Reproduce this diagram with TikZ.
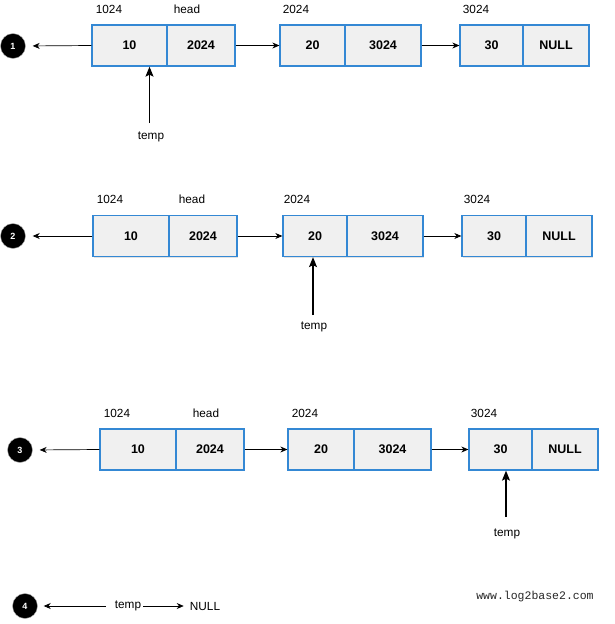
\documentclass[tikz,border=0pt]{standalone}
\usepackage{fontspec}
\setmainfont{Liberation Sans}
\newfontfamily\webmono{Liberation Mono}
\usetikzlibrary{shadows,arrows.meta}
\definecolor{cellblue}{RGB}{52,136,212}
\definecolor{cellfill}{RGB}{240,240,240}
\tikzset{
  cell/.style={draw=cellblue, line width=1.3pt, fill=cellfill, minimum height=41pt,
    inner sep=0pt, font=\fontsize{12.5}{14}\selectfont\bfseries,
    drop shadow={opacity=0.22, shadow xshift=1.2pt, shadow yshift=-1.2pt}},
  addr/.style={font=\fontsize{11.8}{13}\selectfont, inner sep=0pt},
  stepnum/.style={circle, fill=black, draw=gray!60, line width=0.4pt, minimum size=25pt,
    inner sep=0pt, text=white, font=\fontsize{9}{10}\selectfont\bfseries},
  link/.style={-{Stealth[length=7pt,width=6pt]}, line width=0.7pt},
  tempptr/.style={-{Stealth[length=10pt,width=8pt,inset=2pt]}, line width=1.3pt},
}
\begin{document}
\begin{tikzpicture}[x=1pt,y=-1pt]
\useasboundingbox (0,0) rectangle (614,624);
% ---------- Row 1 ----------
\node[stepnum] (c1) at (13,46) {1};
\node[cell, minimum width=75pt] (r1a) at (129.5,45.5) {10};
\node[cell, minimum width=68pt] (r1b) at (201,45.5) {2024};
\node[cell, minimum width=65pt] (r1c) at (312.5,45.5) {20};
\node[cell, minimum width=76pt] (r1d) at (383,45.5) {3024};
\node[cell, minimum width=63pt] (r1e) at (491.5,45.5) {30};
\node[cell, minimum width=66pt] (r1f) at (556,45.5) {NULL};
\node[addr] (l1a) at (109,9) {1024};
\node[addr] (l1b) at (187,9) {head};
\node[addr] (l1c) at (296,9) {2024};
\node[addr] (l1d) at (476,9) {3024};
\node[addr] (t1) at (151,137) {temp};
\draw[link, shorten >=7pt] (r1a.west) -- (c1.east);
\draw[link] (r1b.east) -- (r1c.west);
\draw[link] (r1d.east) -- (r1e.west);
\draw[tempptr] (149.5,123) coordinate (t1b) -- (t1b |- r1a.south);
% ---------- Row 2 ----------
\node[stepnum] (c2) at (13,236) {2};
\node[cell, minimum width=76pt] (r2a) at (131,236) {10};
\node[cell, minimum width=68pt] (r2b) at (203,236) {2024};
\node[cell, minimum width=64pt] (r2c) at (315,236) {20};
\node[cell, minimum width=76pt] (r2d) at (385,236) {3024};
\node[cell, minimum width=64pt] (r2e) at (494,236) {30};
\node[cell, minimum width=66pt] (r2f) at (559,236) {NULL};
\node[addr] (l2a) at (110,199) {1024};
\node[addr] (l2b) at (192,199) {head};
\node[addr] (l2c) at (297,199) {2024};
\node[addr] (l2d) at (477,199) {3024};
\node[addr] (t2) at (314,327) {temp};
\draw[link, shorten >=7pt] (r2a.west) -- (c2.east);
\draw[link] (r2b.east) -- (r2c.west);
\draw[link] (r2d.east) -- (r2e.west);
\draw[tempptr] (313,315) coordinate (t2b) -- (t2b |- r2c.south);
% ---------- Row 3 ----------
\node[stepnum] (c3) at (20,450) {3};
\node[cell, minimum width=76pt] (r3a) at (138,449.5) {10};
\node[cell, minimum width=68pt] (r3b) at (210,449.5) {2024};
\node[cell, minimum width=66pt] (r3c) at (321,449.5) {20};
\node[cell, minimum width=77pt] (r3d) at (392.5,449.5) {3024};
\node[cell, minimum width=63pt] (r3e) at (500.5,449.5) {30};
\node[cell, minimum width=66pt] (r3f) at (565,449.5) {NULL};
\node[addr] (l3a) at (117,413) {1024};
\node[addr] (l3b) at (206,413) {head};
\node[addr] (l3c) at (305,413) {2024};
\node[addr] (l3d) at (484,413) {3024};
\node[addr] (t3) at (507,534) {temp};
\draw[link, shorten >=7pt] (r3a.west) -- (c3.east);
\draw[link] (r3b.east) -- (r3c.west);
\draw[link] (r3d.east) -- (r3e.west);
\draw[tempptr] (506,517) coordinate (t3b) -- (t3b |- r3e.south);
% ---------- Row 4 ----------
\node[stepnum] (c4) at (25,606) {4};
\node[addr] (t4) at (128,606) {temp};
\node[addr] (n4) at (205,606) {NULL};
\draw[link, shorten >=6pt, shorten <=9pt] (t4.west) -- (c4.east);
\draw[link, shorten <=2pt, shorten >=6pt] (t4.east) -- (n4.west);
\node[font=\webmono\fontsize{11.5}{13}\selectfont, text=black!85, inner sep=0pt] (web) at (535,597) {www.log2base2.com};
\end{tikzpicture}
\end{document}
